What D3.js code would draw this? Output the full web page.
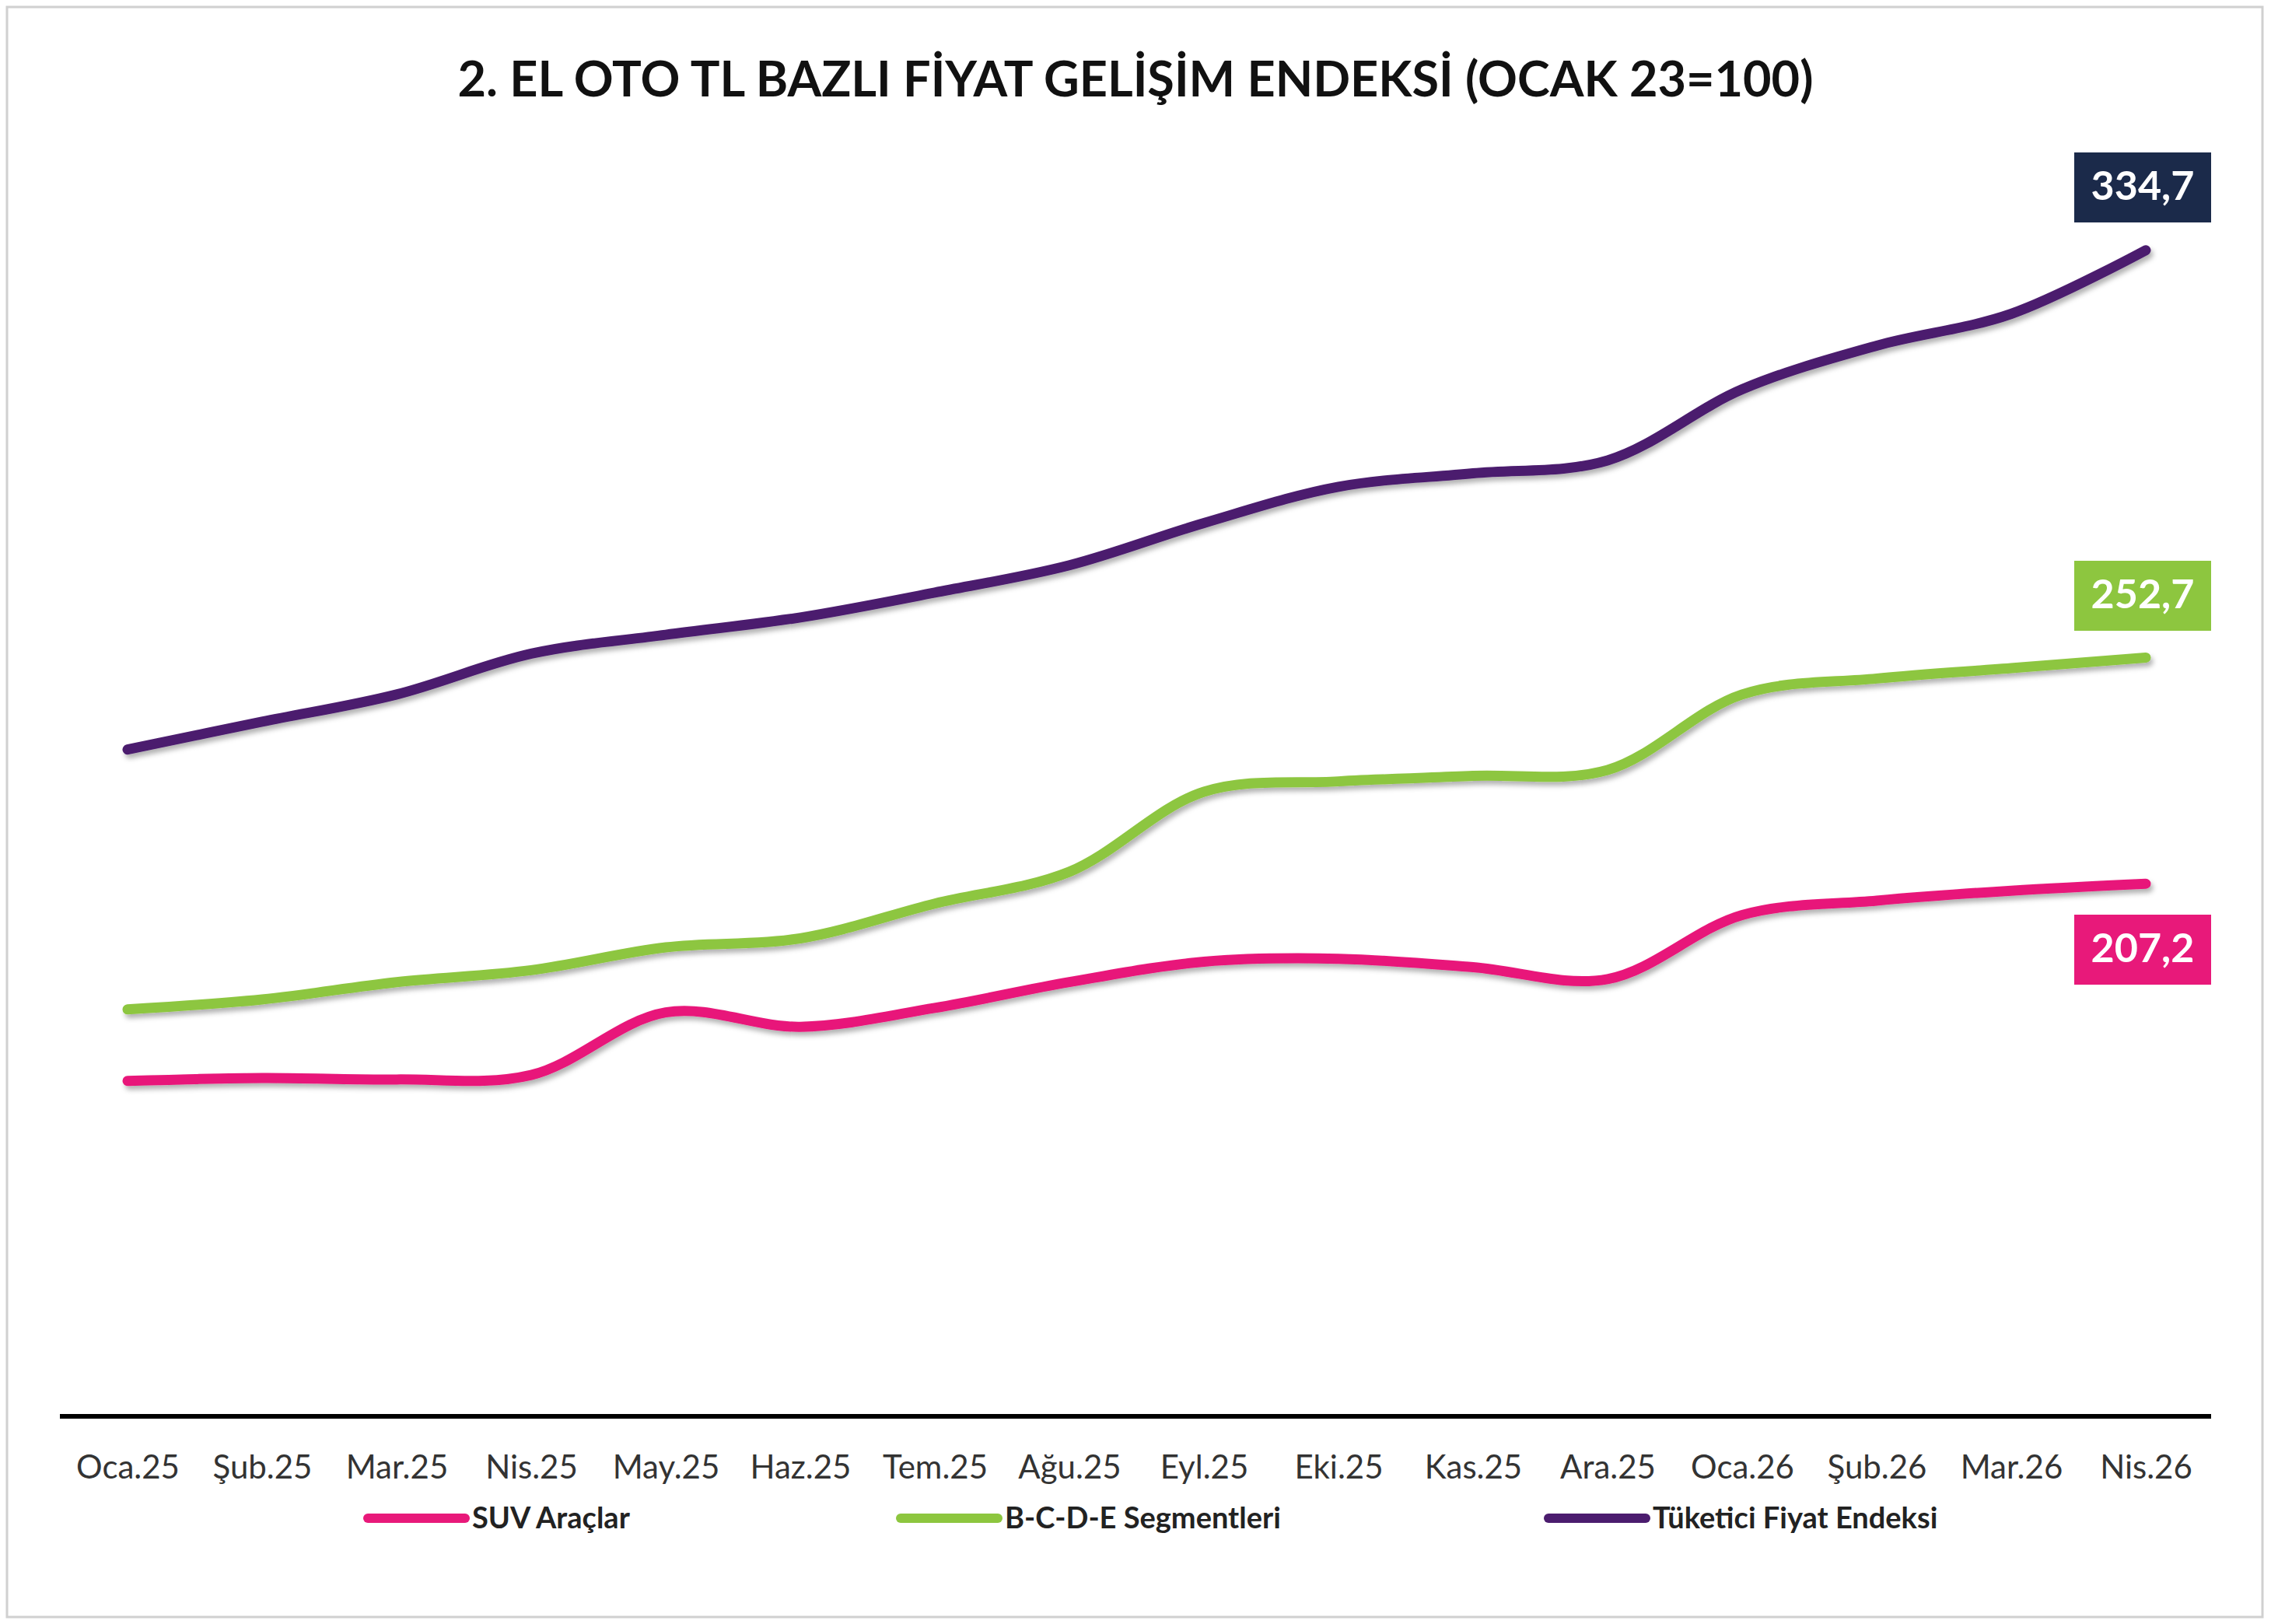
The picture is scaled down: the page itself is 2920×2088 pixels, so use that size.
<!DOCTYPE html>
<html><head><meta charset="utf-8">
<script src="https://cdn.jsdelivr.net/npm/d3@7"></script>
<style>body{margin:0;background:#fff}</style></head>
<body><svg id="c" width="2920" height="2088"></svg>
<script>
const months = ["Oca.25","Şub.25","Mar.25","Nis.25","May.25","Haz.25","Tem.25","Ağu.25","Eyl.25","Eki.25","Kas.25","Ara.25","Oca.26","Şub.26","Mar.26","Nis.26"];
const suv = [167.5,168.1,167.8,168.7,181.3,178.4,182.2,187.4,191.5,192.1,190.4,188.0,200.9,203.8,205.8,207.2];
const bcde = [181.9,183.9,187.4,189.8,194.4,196.2,203.2,209.6,225.7,227.8,228.9,230.1,245.3,248.5,250.6,252.7];
const tufe = [234.2,239.8,245.3,253.5,257.3,260.8,265.8,271.3,279.8,287.1,289.8,292.4,306.7,315.5,321.9,334.7];
const seriesNames = ["SUV Araçlar","B-C-D-E Segmentleri","Tüketici Fiyat Endeksi"];
const lastLabels = ["207,2","252,7","334,7"];
const colors = ["#E8197A","#8DC63F","#4B1C6E"];
const boxColors = ["#E8197A","#8DC63F","#1B2A4A"];

const svg = d3.select("#c");
const defs = svg.append("defs");
const f = defs.append("filter").attr("id","sh").attr("x","-5%").attr("y","-20%").attr("width","110%").attr("height","140%");
f.append("feDropShadow").attr("dx",3).attr("dy",5).attr("stdDeviation",3).attr("flood-color","#000").attr("flood-opacity",0.3);

svg.append("rect").attr("x",9).attr("y",9).attr("width",2900).attr("height",2070).attr("fill","#fff").attr("stroke","#d0d0d0").attr("stroke-width",3);

svg.append("text").attr("x",1460).attr("y",124).attr("text-anchor","middle")
  .attr("font-family","Lato, 'Open Sans', sans-serif").attr("font-weight","bold").attr("font-size",63).attr("fill","#111")
  .text("2. EL OTO TL BAZLI FİYAT GELİŞİM ENDEKSİ (OCAK 23=100)");

const x = d3.scalePoint().domain(months).range([164,2759]);
const y = d3.scaleLinear().domain([100,350]).range([1821,224]);

const line = d3.line().x((d,i)=>x(months[i])).y(d=>y(d)).curve(d3.curveCatmullRom.alpha(0.5));
[suv,bcde,tufe].forEach((s,k)=>{
  svg.append("path").datum(s).attr("d",line).attr("fill","none").attr("stroke",colors[k])
    .attr("stroke-width",13).attr("stroke-linecap","round").attr("filter","url(#sh)");
});

const axis = svg.append("g").attr("transform","translate(0,1821)").call(d3.axisBottom(x).tickSize(0).tickPadding(0));
axis.select(".domain").remove();
axis.append("line").attr("x1",77).attr("x2",2843).attr("stroke","#000").attr("stroke-width",6);
axis.selectAll(".tick text").attr("y",80).attr("dy",0).attr("font-family","Lato, 'Open Sans', sans-serif").attr("font-size",42).attr("fill","#333");

const boxY = [1220,765,240];
[suv,bcde,tufe].forEach((s,k)=>{
  const cx = 2755;
  svg.append("rect").attr("x",cx-88).attr("y",boxY[k]-44).attr("width",176).attr("height",90).attr("fill",boxColors[k]);
  svg.append("text").attr("x",cx).attr("y",boxY[k]+17).attr("text-anchor","middle")
    .attr("font-family","Lato, 'Open Sans', sans-serif").attr("font-weight","bold").attr("font-size",52).attr("fill","#fff")
    .text(lastLabels[k]);
});

const legX = [473,1158,1991];
seriesNames.forEach((n,k)=>{
  svg.append("line").attr("x1",legX[k]).attr("x2",legX[k]+125).attr("y1",1952).attr("y2",1952)
    .attr("stroke",colors[k]).attr("stroke-width",12).attr("stroke-linecap","round");
  svg.append("text").attr("x",legX[k]+134).attr("y",1965).attr("font-family","Lato, 'Open Sans', sans-serif")
    .attr("font-weight","bold").attr("font-size",38).attr("fill","#222").text(n);
});
</script></body></html>
